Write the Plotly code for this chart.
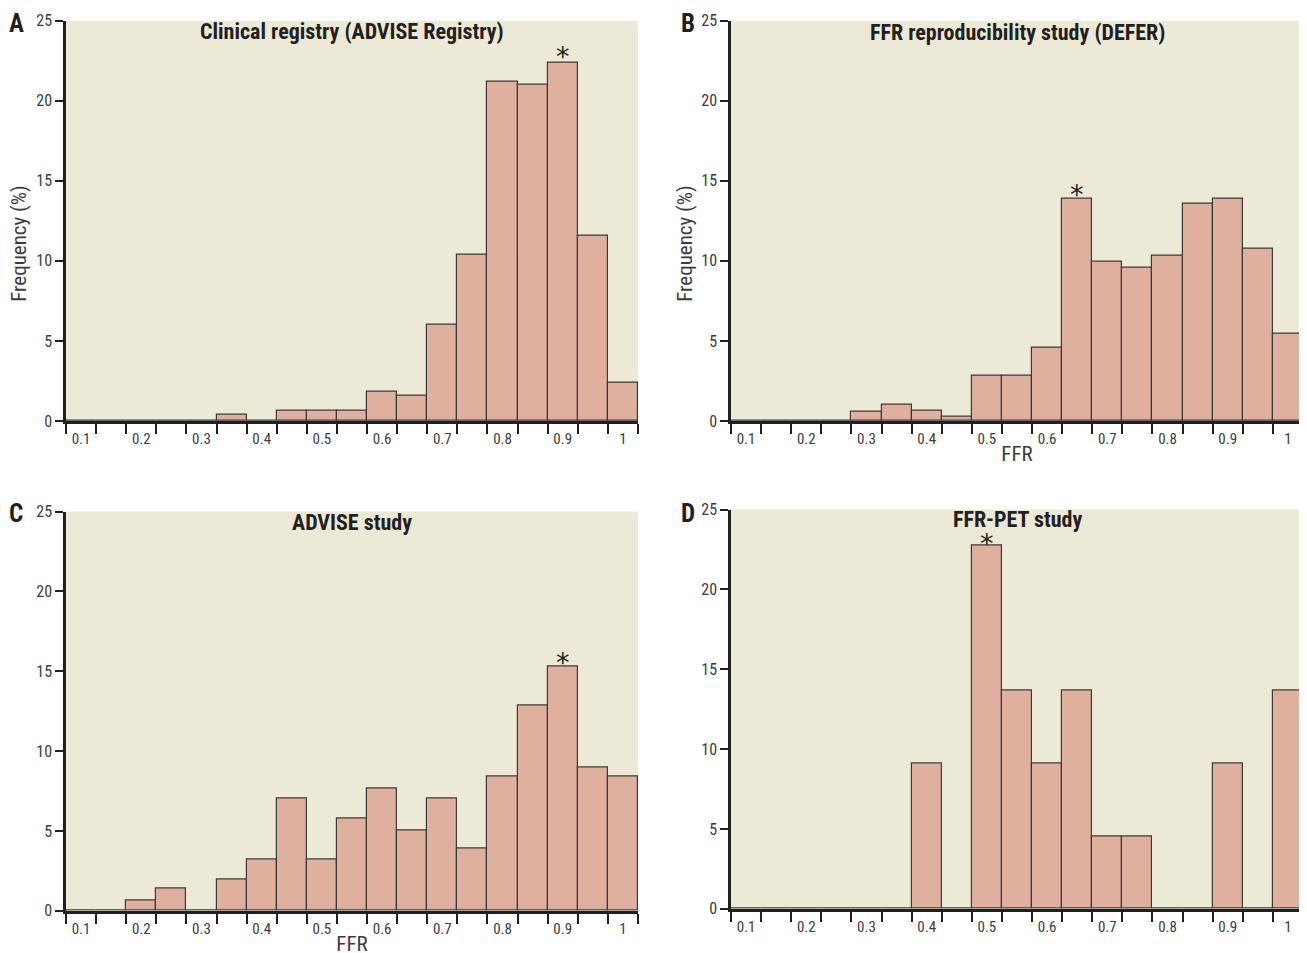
import plotly.graph_objects as go

ffr_bins = [0.1, 0.15, 0.2, 0.25, 0.3, 0.35, 0.4, 0.45, 0.5, 0.55,
            0.6, 0.65, 0.7, 0.75, 0.8, 0.85, 0.9, 0.95, 1.0]

freq_registry = [0, 0, 0, 0, 0, 0.4, 0, 0.62, 0.62, 0.62,
                 1.8, 1.55, 6.0, 10.4, 21.2, 21.0, 22.4, 11.6, 2.4]
freq_defer = [0, 0, 0, 0, 0.56, 1.0, 0.62, 0.25, 2.8, 2.8,
              4.6, 13.87, 9.95, 9.58, 10.35, 13.55, 13.87, 10.76, 5.47]
freq_advise = [0, 0, 0.62, 1.37, 0, 1.93, 3.24, 7.04, 3.24, 5.8,
               7.67, 5.05, 7.04, 3.87, 8.42, 12.84, 15.27, 8.98, 8.42]
freq_pet = [0, 0, 0, 0, 0, 0, 9.09, 0, 22.73, 13.64,
            9.09, 13.64, 4.55, 4.55, 0, 0, 9.09, 0, 13.64]

panel_titles = ["Clinical registry (ADVISE Registry)", "FFR reproducibility study (DEFER)",
                "ADVISE study", "FFR-PET study"]
panel_letters = ["A", "B", "C", "D"]
peak_bins = [0.9, 0.65, 0.9, 0.5]

x_ticks = [0.1, 0.2, 0.3, 0.4, 0.5, 0.6, 0.7, 0.8, 0.9, 1]
x_ticktext = ["0.1", "0.2", "0.3", "0.4", "0.5", "0.6", "0.7", "0.8", "0.9", "1"]
y_ticks = [0, 5, 10, 15, 20, 25]

W, H = 1307, 953
FONT = "Roboto Condensed, Liberation Sans Narrow, Roboto, sans-serif"
DARK = "#231f20"
GREY = "#3c3c3c"
BAR = "#e0b09f"
BG = "#ece9d6"

# page-pixel -> paper-fraction helpers (page is offset/scaled slightly by the browser)
OX, OY, SY = 7.0, 15.3, 0.9843

def fx(px):
    return (px - OX) / W

def fy(py):
    return 1 - ((py - OY) / SY) / H

xdoms = [[fx(65), fx(637)], [fx(730), fx(1302)], [fx(65), fx(637)], [fx(730), fx(1302)]]
ydoms = [[fy(421), fy(19)], [fy(421), fy(19)], [fy(913), fy(512)], [fy(911), fy(510)]]
letter_x = [15, 687, 15, 687]
letter_y = [22, 22, 514, 514]
title_y = [30, 31, 523, 520]
ytitle_x = [18, 684]
ytitle_y = 243
star_shift = [-12, -13, -13, -15]
series = [freq_registry, freq_defer, freq_advise, freq_pet]

fig = go.Figure()
layout = dict(width=W, height=H, margin=dict(l=0, r=0, t=0, b=0),
              paper_bgcolor="white", plot_bgcolor=BG, showlegend=False,
              font=dict(family=FONT, color=DARK), bargap=0)
annotations = []

for i in range(4):
    sfx = "" if i == 0 else str(i + 1)
    xa, ya = "x" + sfx, "y" + sfx
    fig.add_trace(go.Bar(x=ffr_bins, y=series[i], width=0.05, xaxis=xa, yaxis=ya,
                         marker=dict(color=BAR, line=dict(color="#3a3a3a", width=1.2)),
                         hoverinfo="x+y"))
    layout["xaxis" + sfx] = dict(
        domain=xdoms[i], anchor=ya, range=[0.075, 1.025], tickmode="array",
        tickvals=x_ticks, ticktext=x_ticktext, ticks="outside", ticklen=2,
        tickcolor="rgba(0,0,0,0)", tickfont=dict(size=15, color=GREY),
        showgrid=False, zeroline=False, showline=True, linecolor=DARK, linewidth=2.5,
        minor=dict(tickmode="linear", tick0=0.075, dtick=0.05, ticks="outside",
                   ticklen=10, tickwidth=1.5, tickcolor=DARK, showgrid=False),
        fixedrange=True,
        title=dict(text="FFR" if i in (1, 2) else "", font=dict(size=21, color=GREY),
                   standoff=0),
    )
    layout["yaxis" + sfx] = dict(
        domain=ydoms[i], anchor=xa, range=[0, 25], tickmode="array", tickvals=y_ticks,
        ticks="outside", ticklen=8, tickwidth=1.5, tickcolor=DARK,
        tickfont=dict(size=16, color=GREY), showgrid=False, zeroline=False,
        showline=True, linecolor=DARK, linewidth=2.5, fixedrange=True,
    )
    if i in (0, 1):
        annotations.append(dict(text="Frequency (%)", xref="paper", yref="paper",
                                x=fx(ytitle_x[i]), y=fy(ytitle_y), xanchor="center",
                                yanchor="middle", textangle=-90, showarrow=False,
                                font=dict(size=21, color=GREY)))
    annotations.append(dict(text="<b>" + panel_titles[i] + "</b>", xref=xa + " domain",
                            yref="paper", x=0.5, y=fy(title_y[i]), xanchor="center",
                            yanchor="middle", showarrow=False,
                            font=dict(size=22, color=DARK)))
    annotations.append(dict(text="<b>" + panel_letters[i] + "</b>", xref="paper", yref="paper",
                            x=fx(letter_x[i]), y=fy(letter_y[i]), xanchor="center",
                            yanchor="middle", showarrow=False,
                            font=dict(size=25, color=DARK)))
    pk = peak_bins[i]
    annotations.append(dict(text="*", xref=xa, yref=ya, x=pk,
                            y=series[i][ffr_bins.index(pk)], xanchor="center",
                            yanchor="bottom", yshift=star_shift[i], showarrow=False,
                            font=dict(size=27, color=DARK, family="DejaVu Sans")))

layout["annotations"] = annotations
fig.update_layout(**layout)
fig.write_html("out.html")
